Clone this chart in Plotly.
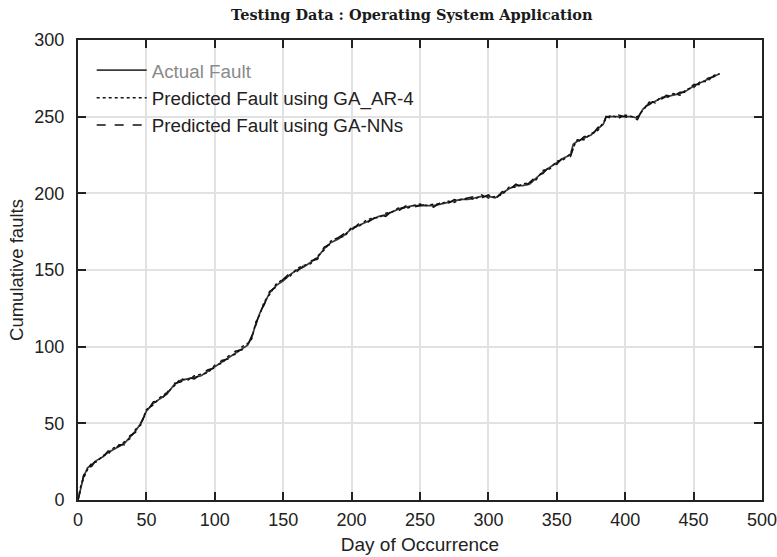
import plotly.graph_objects as go

days = [0, 2, 4, 7, 10, 14, 18, 22, 26, 30, 34, 38, 42, 46, 50, 55, 60, 65, 70, 75,
        80, 85, 90, 95, 100, 105, 110, 115, 120, 124, 127, 130, 133, 136, 140, 145,
        150, 155, 160, 165, 170, 175, 180, 185, 190, 195, 200, 205, 210, 215, 220,
        225, 230, 235, 240, 245, 250, 255, 260, 265, 270, 275, 280, 285, 290, 295,
        300, 305, 310, 315, 320, 325, 330, 335, 340, 345, 350, 355, 360, 362, 365,
        370, 375, 380, 384, 386, 390, 395, 400, 405, 409, 413, 418, 422, 426, 430,
        435, 440, 445, 450, 455, 460, 465, 469]

actual = [0, 8, 15, 21, 23, 26, 28, 31, 33, 35, 37, 41, 45, 50, 58, 63, 66, 69, 75, 78,
          79, 80, 81, 84, 87, 90, 93, 96, 99, 101, 106, 115, 122, 128, 135, 140,
          143, 147, 150, 152, 155, 158, 164, 168, 170, 173, 177, 179, 181, 183, 185,
          186, 188, 190, 191, 192, 192, 192, 192, 193, 194, 195, 196, 196, 197, 198,
          198, 197, 200, 203, 205, 205, 206, 210, 214, 217, 220, 223, 225, 232, 234,
          236, 238, 242, 245, 250, 250, 250, 250, 250, 249, 255, 259, 260, 262, 263,
          264, 265, 267, 270, 272, 274, 276, 278]

pred_ar4 = [0, 9, 14, 20, 24, 25, 29, 30, 34, 35, 38, 40, 46, 49, 59, 62, 67, 70, 74, 79,
            78, 81, 82, 83, 88, 89, 94, 95, 100, 102, 105, 116, 121, 129, 134, 141,
            144, 146, 151, 153, 154, 159, 163, 169, 171, 172, 178, 178, 182, 184, 184,
            187, 188, 191, 190, 192, 193, 192, 193, 193, 195, 194, 196, 197, 196, 199,
            197, 198, 199, 204, 204, 206, 207, 209, 215, 216, 221, 222, 226, 230, 235,
            235, 239, 241, 246, 249, 251, 249, 251, 250, 250, 254, 260, 259, 263, 262,
            265, 264, 268, 269, 273, 273, 277, 278]

pred_nns = [0, 7, 16, 21, 22, 27, 28, 32, 32, 36, 36, 42, 44, 51, 57, 64, 65, 70, 76, 77,
            80, 79, 82, 85, 86, 91, 92, 97, 98, 101, 107, 114, 123, 127, 136, 139,
            144, 148, 149, 153, 156, 157, 165, 167, 171, 174, 176, 180, 180, 183, 186,
            185, 189, 189, 192, 191, 192, 193, 191, 194, 193, 196, 195, 197, 198, 197,
            199, 196, 201, 202, 206, 204, 207, 211, 213, 218, 219, 224, 224, 229, 233,
            237, 237, 243, 244, 250, 249, 251, 250, 249, 248, 256, 258, 261, 261, 264,
            263, 266, 266, 271, 271, 275, 276, 277]

x_ticks = [0, 50, 100, 150, 200, 250, 300, 350, 400, 450, 500]
y_ticks = [0, 50, 100, 150, 200, 250, 300]

fig = go.Figure()
fig.add_trace(go.Scatter(x=days, y=actual, mode="lines",
                         name="<span style='color:#8a8a8a'>Actual Fault</span>",
                         line=dict(color="#3a3a3a", width=1.7)))
fig.add_trace(go.Scatter(x=days, y=pred_ar4, mode="lines",
                         name="Predicted Fault using GA_AR-4",
                         line=dict(color="#111111", width=1.5, dash="dot")))
fig.add_trace(go.Scatter(x=days, y=pred_nns, mode="lines",
                         name="Predicted Fault using GA-NNs",
                         line=dict(color="#111111", width=1.5, dash="dash")))

axis_common = dict(showline=True, linecolor="#222", linewidth=2, mirror="ticks",
                   ticks="inside", ticklen=8, tickwidth=2, tickcolor="#222",
                   showgrid=True, gridcolor="#e2e2e2", gridwidth=1.5,
                   zeroline=False, automargin=False, ticklabeloverflow="allow",
                   tickfont=dict(family="Liberation Sans, Arial", size=18, color="#222"))

fig.update_layout(
    width=777, height=557,
    margin=dict(l=78, r=15, t=40, b=57),
    paper_bgcolor="white", plot_bgcolor="white",
    title=dict(text="<b>Testing Data : Operating System Application</b>",
               x=0.53, xanchor="center", y=0.983, yanchor="top",
               font=dict(family="DejaVu Serif", size=14.5, color="#1a1a1a")),
    xaxis=dict(range=[0, 500], tickvals=x_ticks, ticklabelstandoff=2,
               title=dict(text="Day of Occurrence", standoff=9,
                          font=dict(family="Liberation Sans, Arial", size=19, color="#222")),
               **axis_common),
    yaxis=dict(range=[0, 300], tickvals=y_ticks, ticklabelstandoff=8,
               title=dict(text="Cumulative faults", standoff=6,
                          font=dict(family="Liberation Sans, Arial", size=18.5, color="#222")),
               **axis_common),
    legend=dict(x=0.02, y=0.975, xanchor="left", yanchor="top",
                bgcolor="rgba(0,0,0,0)", borderwidth=0, tracegroupgap=0,
                font=dict(family="Liberation Sans, Arial", size=18.8, color="#222"),
                itemwidth=50),
    showlegend=True,
)

fig.write_html("out.html")
